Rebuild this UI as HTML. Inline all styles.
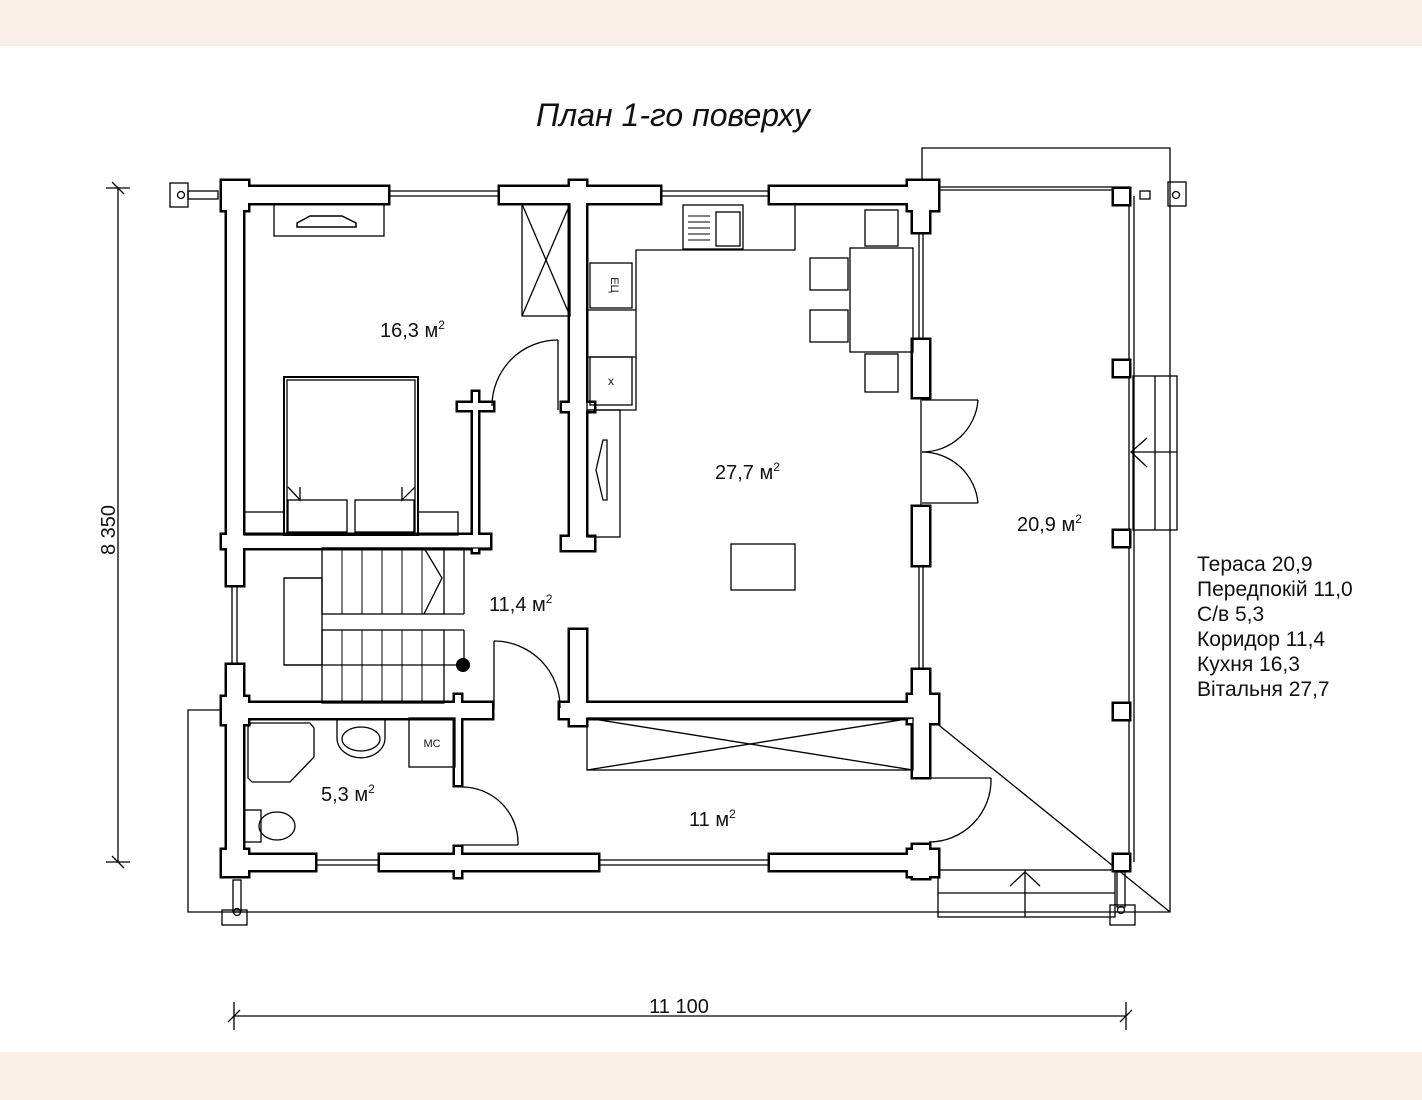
<!DOCTYPE html>
<html><head><meta charset="utf-8"><style>
html,body{margin:0;padding:0;background:#fff}
svg{display:block}
text{font-family:"Liberation Sans","DejaVu Sans",sans-serif;fill:#111}
</style></head><body>
<svg width="1422" height="1100" viewBox="0 0 1422 1100" xmlns="http://www.w3.org/2000/svg">
<rect x="0" y="0" width="1422" height="1100" fill="#fff"/>
<rect x="0" y="0" width="1422" height="46" fill="#f8f0e7"/>
<rect x="0" y="1052" width="1422" height="48" fill="#f8f0e7"/>

<text x="673" y="126" font-size="32" font-style="italic" text-anchor="middle">План 1-го поверху</text>

<g fill="none" stroke="#000" stroke-width="1.3">
<polyline points="922,187 922,148 1170,148 1170,912 188,912 188,710 222,710"/>
<line x1="930" y1="718" x2="1170" y2="912"/>
<line x1="1129" y1="196" x2="1129" y2="862"/><line x1="1134" y1="196" x2="1134" y2="862"/>
<line x1="930" y1="187" x2="1130" y2="187"/><line x1="930" y1="190" x2="1130" y2="190"/>
<rect x="1133" y="376" width="44" height="154"/>
<line x1="1155" y1="376" x2="1155" y2="530"/>
<line x1="1133" y1="452" x2="1177" y2="452"/>
<polyline points="1147,438 1131,452 1147,467"/>
<rect x="938" y="870" width="177" height="47"/>
<line x1="938" y1="893" x2="1115" y2="893"/>
<line x1="1025" y1="870" x2="1025" y2="917"/>
<polyline points="1010,886 1025,872 1040,886"/>
<rect x="170" y="183" width="18" height="24"/><circle cx="181" cy="195" r="3.5"/>
<rect x="188" y="191" width="30" height="8"/>
<rect x="1168" y="182" width="18" height="24"/><circle cx="1176" cy="195" r="3.5"/>
<rect x="1140" y="191" width="10" height="8"/>
<rect x="222" y="910" width="25" height="15"/><rect x="233" y="880" width="8" height="32"/><circle cx="237" cy="912" r="3.5"/>
<rect x="1110" y="905" width="25" height="20"/><rect x="1117" y="872" width="8" height="35"/><circle cx="1121" cy="910" r="3.5"/>
</g>

<g stroke="#000" stroke-width="5" fill="#000">
<rect x="222" y="187" width="166" height="16"/>
<rect x="500" y="187" width="160" height="16"/>
<rect x="770" y="187" width="168" height="16"/>
<rect x="227" y="187" width="16" height="398"/>
<rect x="227" y="665" width="16" height="205"/>
<rect x="222" y="181" width="26" height="29"/>
<rect x="570" y="181" width="16" height="29"/>
<rect x="908" y="181" width="30" height="29"/>
<rect x="570" y="187" width="16" height="363"/>
<rect x="562" y="403" width="32" height="8"/>
<rect x="562" y="537" width="32" height="13"/>
<rect x="913" y="187" width="16" height="45"/>
<rect x="913" y="340" width="16" height="57"/>
<rect x="913" y="507" width="16" height="58"/>
<rect x="913" y="670" width="16" height="107"/>
<rect x="222" y="535" width="268" height="13"/>
<rect x="222" y="703" width="270" height="15"/>
<rect x="560" y="703" width="378" height="15"/>
<rect x="570" y="630" width="16" height="95"/>
<rect x="908" y="695" width="30" height="28"/>
<rect x="222" y="697" width="26" height="27"/>
<rect x="222" y="855" width="93" height="15"/>
<rect x="380" y="855" width="218" height="15"/>
<rect x="770" y="855" width="168" height="15"/>
<rect x="913" y="845" width="16" height="33"/>
<rect x="908" y="850" width="30" height="26"/>
<rect x="222" y="850" width="26" height="26"/>
<rect x="455" y="847" width="6" height="30"/>
<rect x="455" y="695" width="6" height="90"/>
<rect x="473" y="392" width="5" height="160"/>
<rect x="458" y="403" width="35" height="7"/>
<rect x="1114" y="189" width="15" height="15"/>
<rect x="1114" y="361" width="15" height="15"/>
<rect x="1114" y="531" width="15" height="15"/>
<rect x="1114" y="704" width="15" height="15"/>
<rect x="1114" y="855" width="15" height="15"/>
</g>
<g fill="#fff">
<rect x="222" y="187" width="166" height="16"/>
<rect x="500" y="187" width="160" height="16"/>
<rect x="770" y="187" width="168" height="16"/>
<rect x="227" y="187" width="16" height="398"/>
<rect x="227" y="665" width="16" height="205"/>
<rect x="222" y="181" width="26" height="29"/>
<rect x="570" y="181" width="16" height="29"/>
<rect x="908" y="181" width="30" height="29"/>
<rect x="570" y="187" width="16" height="363"/>
<rect x="562" y="403" width="32" height="8"/>
<rect x="562" y="537" width="32" height="13"/>
<rect x="913" y="187" width="16" height="45"/>
<rect x="913" y="340" width="16" height="57"/>
<rect x="913" y="507" width="16" height="58"/>
<rect x="913" y="670" width="16" height="107"/>
<rect x="222" y="535" width="268" height="13"/>
<rect x="222" y="703" width="270" height="15"/>
<rect x="560" y="703" width="378" height="15"/>
<rect x="570" y="630" width="16" height="95"/>
<rect x="908" y="695" width="30" height="28"/>
<rect x="222" y="697" width="26" height="27"/>
<rect x="222" y="855" width="93" height="15"/>
<rect x="380" y="855" width="218" height="15"/>
<rect x="770" y="855" width="168" height="15"/>
<rect x="913" y="845" width="16" height="33"/>
<rect x="908" y="850" width="30" height="26"/>
<rect x="222" y="850" width="26" height="26"/>
<rect x="455" y="847" width="6" height="30"/>
<rect x="455" y="695" width="6" height="90"/>
<rect x="473" y="392" width="5" height="160"/>
<rect x="458" y="403" width="35" height="7"/>
<rect x="1114" y="189" width="15" height="15"/>
<rect x="1114" y="361" width="15" height="15"/>
<rect x="1114" y="531" width="15" height="15"/>
<rect x="1114" y="704" width="15" height="15"/>
<rect x="1114" y="855" width="15" height="15"/>
</g>

<g fill="none" stroke="#000" stroke-width="1.3">
<line x1="388" y1="191" x2="500" y2="191"/><line x1="388" y1="196" x2="500" y2="196"/>
<line x1="660" y1="191" x2="770" y2="191"/><line x1="660" y1="196" x2="770" y2="196"/>
<line x1="919" y1="232" x2="919" y2="340"/><line x1="923" y1="232" x2="923" y2="340"/>
<line x1="919" y1="565" x2="919" y2="670"/><line x1="923" y1="565" x2="923" y2="670"/>
<line x1="232" y1="585" x2="232" y2="665"/><line x1="237" y1="585" x2="237" y2="665"/>
<line x1="315" y1="860" x2="380" y2="860"/><line x1="315" y1="865" x2="380" y2="865"/>
<line x1="598" y1="860" x2="770" y2="860"/><line x1="598" y1="865" x2="770" y2="865"/>
<line x1="921" y1="397" x2="921" y2="507"/>
<line x1="558" y1="340" x2="558" y2="410"/><path d="M558,340 A66,66 0 0 0 492,406"/>
<polyline points="922,400 978,400"/><path d="M978,400 A56,56 0 0 1 922,452"/>
<polyline points="922,503 978,503"/><path d="M978,503 A56,56 0 0 0 922,452"/>
<line x1="494" y1="641" x2="494" y2="710"/><path d="M494,641 A66,66 0 0 1 560,708"/>
<line x1="462" y1="845" x2="518" y2="845"/><path d="M518,845 A56,56 0 0 0 462,787"/>
<line x1="929" y1="778" x2="991" y2="778"/><path d="M991,778 A62,62 0 0 1 929,842"/>
<rect x="274" y="204" width="110" height="32"/>
<path d="M297,223 L310,216 L342,216 L356,223 L356,227 L297,227 Z" stroke-width="1.5"/>
<rect x="284" y="377" width="134" height="158" stroke-width="2"/>
<rect x="287" y="380" width="128" height="155"/>
<rect x="288" y="500" width="59" height="32"/><rect x="355" y="500" width="59" height="32"/>
<polyline points="288,487 300,500 300,487"/><polyline points="415,487 402,500 402,487"/>
<rect x="244" y="512" width="40" height="23"/><rect x="418" y="512" width="40" height="23"/>
<rect x="522" y="204" width="48" height="112"/>
<line x1="522" y1="204" x2="570" y2="316"/><line x1="570" y1="204" x2="522" y2="316"/>
<polyline points="587,204 587,410 636,410 636,250 795,250 795,204"/>
<rect x="683" y="205" width="60" height="44"/><rect x="716" y="212" width="24" height="34"/>
<g stroke-width="1"><line x1="688" y1="216" x2="710" y2="216"/><line x1="688" y1="222" x2="710" y2="222"/><line x1="688" y1="228" x2="710" y2="228"/><line x1="688" y1="234" x2="710" y2="234"/><line x1="688" y1="240" x2="710" y2="240"/></g>
<rect x="590" y="263" width="42" height="45"/><rect x="590" y="357" width="42" height="48"/>
<line x1="587" y1="310" x2="636" y2="310"/><line x1="587" y1="357" x2="636" y2="357"/>
<rect x="850" y="248" width="63" height="104"/>
<rect x="865" y="210" width="33" height="36"/><rect x="810" y="258" width="38" height="32"/>
<rect x="810" y="310" width="38" height="32"/><rect x="865" y="354" width="33" height="38"/>
<rect x="587" y="410" width="33" height="127"/>
<path d="M603,440 L607,440 L607,500 L603,500 L596,470 Z"/>
<rect x="731" y="544" width="64" height="46"/>
<polyline points="322,548 490,548"/>
<rect x="322" y="548" width="122" height="66"/>
<rect x="322" y="630" width="122" height="73"/>
<rect x="284" y="578" width="38" height="87"/>
<line x1="284" y1="665" x2="458" y2="665"/>
<line x1="284" y1="578" x2="322" y2="578"/>
<g stroke-width="1"><line x1="342" y1="548" x2="342" y2="614"/><line x1="362" y1="548" x2="362" y2="614"/><line x1="382" y1="548" x2="382" y2="614"/><line x1="402" y1="548" x2="402" y2="614"/><line x1="422" y1="548" x2="422" y2="614"/>
<line x1="342" y1="630" x2="342" y2="703"/><line x1="362" y1="630" x2="362" y2="703"/><line x1="382" y1="630" x2="382" y2="703"/><line x1="402" y1="630" x2="402" y2="703"/><line x1="422" y1="630" x2="422" y2="703"/></g>
<line x1="444" y1="548" x2="464" y2="548"/><line x1="464" y1="548" x2="464" y2="614"/><line x1="444" y1="614" x2="464" y2="614"/>
<polyline points="424,548 442,578 424,614"/>
<line x1="464" y1="630" x2="464" y2="665"/><line x1="444" y1="630" x2="464" y2="630"/>
<path d="M251,723 L310,723 L314,728 L314,757 L290,782 L252,782 L248,778 L248,727 Z"/>
<path d="M337,718 L337,738 A23,19 0 0 0 385,738 L385,718"/>
<ellipse cx="361" cy="739" rx="19" ry="12"/>
<rect x="409" y="718" width="46" height="49"/>
<rect x="244" y="810" width="17" height="32"/>
<ellipse cx="277" cy="826" rx="18" ry="14"/>
<rect x="587" y="718" width="326" height="52"/>
<line x1="587" y1="718" x2="913" y2="770"/><line x1="587" y1="770" x2="913" y2="718"/>
<line x1="118" y1="188" x2="118" y2="862"/>
<line x1="106" y1="188" x2="130" y2="188"/><line x1="106" y1="862" x2="130" y2="862"/>
<line x1="112" y1="182" x2="124" y2="194"/><line x1="112" y1="856" x2="124" y2="868"/>
<line x1="234" y1="1016" x2="1126" y2="1016"/>
<line x1="234" y1="1002" x2="234" y2="1030"/><line x1="1126" y1="1002" x2="1126" y2="1030"/>
<line x1="228" y1="1022" x2="240" y2="1010"/><line x1="1120" y1="1022" x2="1132" y2="1010"/>
</g>
<circle cx="463" cy="665" r="7" fill="#000"/>

<text x="611" y="285" font-size="11" transform="rotate(90 611 285)" text-anchor="middle">ЕЦ</text>
<text x="611" y="385" font-size="12" text-anchor="middle">х</text>
<text x="432" y="747" font-size="11" text-anchor="middle">МС</text>

<g font-size="20">
<text x="380" y="337">16,3 м<tspan font-size="12" dy="-8">2</tspan></text>
<text x="715" y="479">27,7 м<tspan font-size="12" dy="-8">2</tspan></text>
<text x="1017" y="531">20,9 м<tspan font-size="12" dy="-8">2</tspan></text>
<text x="489" y="611">11,4 м<tspan font-size="12" dy="-8">2</tspan></text>
<text x="321" y="801">5,3 м<tspan font-size="12" dy="-8">2</tspan></text>
<text x="689" y="826">11 м<tspan font-size="12" dy="-8">2</tspan></text>
<text x="679" y="1013" text-anchor="middle">11 100</text>
<text x="115" y="530" text-anchor="middle" transform="rotate(-90 115 530)">8 350</text>
</g>
<g font-size="21">
<text x="1197" y="571">Тераса 20,9</text>
<text x="1197" y="596">Передпокій 11,0</text>
<text x="1197" y="621">С/в 5,3</text>
<text x="1197" y="646">Коридор 11,4</text>
<text x="1197" y="671">Кухня 16,3</text>
<text x="1197" y="696">Вітальня 27,7</text>
</g>
</svg>
</body></html>
